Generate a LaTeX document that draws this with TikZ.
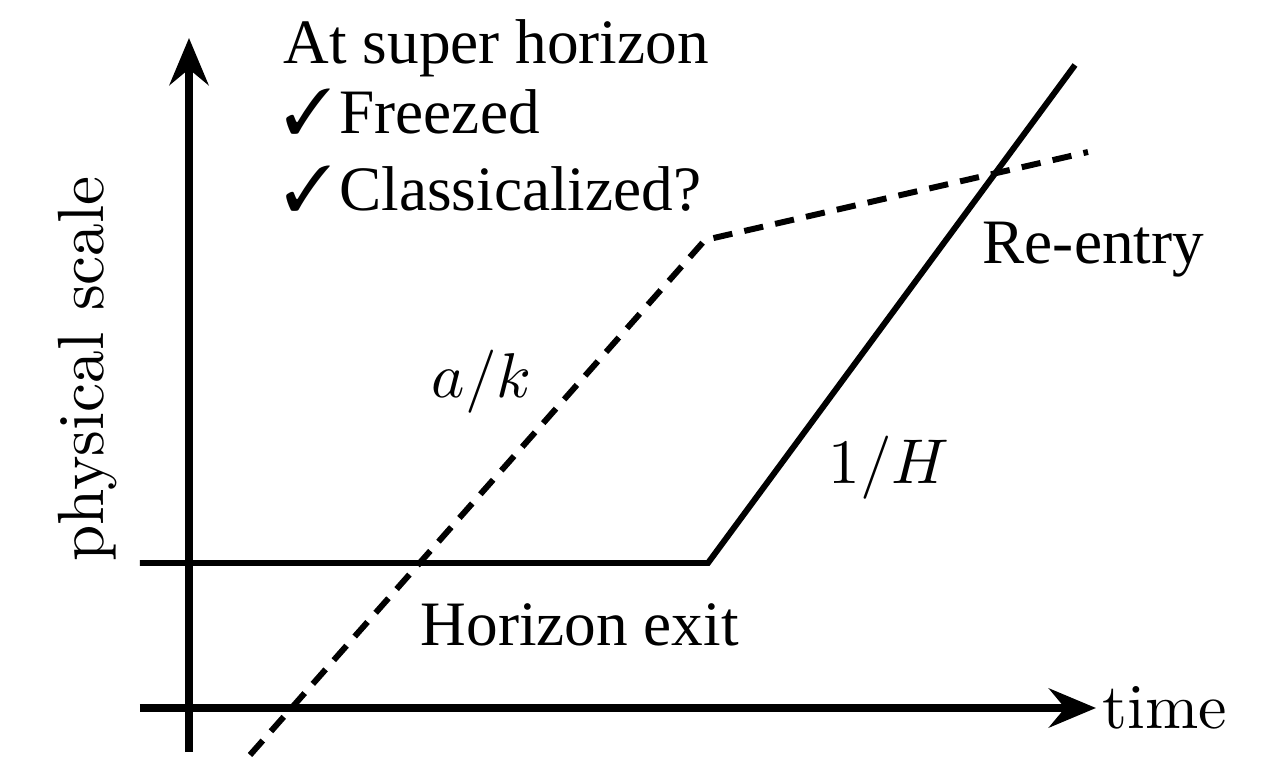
\documentclass[tikz,border=0pt]{standalone}
\usepackage{fontspec}
\usepackage{pifont}
\newfontfamily\timesfont{Liberation Serif}
\usetikzlibrary{arrows.meta}

\begin{document}
\begin{tikzpicture}[
  lbl/.style={font=\fontsize{10}{12}\selectfont, inner sep=0pt},
  tlbl/.style={font=\fontsize{18}{22}\selectfont\timesfont, inner sep=0pt},
  axis/.style={draw=black, line width=2.5pt, -{Stealth[length=4.7mm, width=3.9mm, inset=1.6mm]}},
  solidline/.style={draw=black, line width=1.7pt, line join=miter},
  dashline/.style={draw=black, line width=1.7pt, dash pattern=on 5.5pt off 3.5pt}
]
\useasboundingbox (0,0) rectangle (12.72,7.64);

% axes
\coordinate (yb) at (1.89,0.12);
\coordinate (yt) at (1.89,7.26);
\coordinate (xl) at (1.40,0.56);
\coordinate (xr) at (10.96,0.56);
\draw[axis] (yb) -- (yt);
\draw[axis] (xl) -- (xr);
\node[lbl, anchor=base west] (time) at (11.02,0.36) {\scalebox{1.82}{time}};
\node[lbl, rotate=90, anchor=base] (phys) at (1.03,3.95) {\scalebox{1.86}{physical scale}};

% horizon 1/H
\coordinate (hl) at (1.40,2.01);
\coordinate (hk) at (7.08,2.01);
\coordinate (ht) at (10.75,6.99);
\draw[solidline] (hl) -- (hk) -- (ht);

% mode a/k
\coordinate (ab) at (2.50,0.09);
\coordinate (ak) at (7.05,5.24);
\coordinate (ae) at (10.88,6.12);
\draw[dashline] (ab) -- (ak) -- (ae);

\node[lbl, anchor=base west] (ak-lbl) at (4.31,3.67) {\scalebox{1.8}{$a/k$}};
\node[lbl, anchor=base west] (hh-lbl) at (8.28,2.81) {\scalebox{1.8}{$1/H$}};
\node[tlbl, anchor=base west] (reentry) at (9.82,5.01) {Re-entry};
\node[tlbl, anchor=base west] (exit) at (4.20,1.19) {Horizon exit};

% super horizon notes
\node[tlbl, anchor=base west] (title) at (2.83,7.01) {At super horizon};
\node[tlbl, anchor=base west] (frz) at (2.84,6.31) {\ding{51}\hspace{2pt}Freezed};
\node[tlbl, anchor=base west] (cls) at (2.84,5.54) {\ding{51}\hspace{2pt}Classicalized?};

\end{tikzpicture}
\end{document}
